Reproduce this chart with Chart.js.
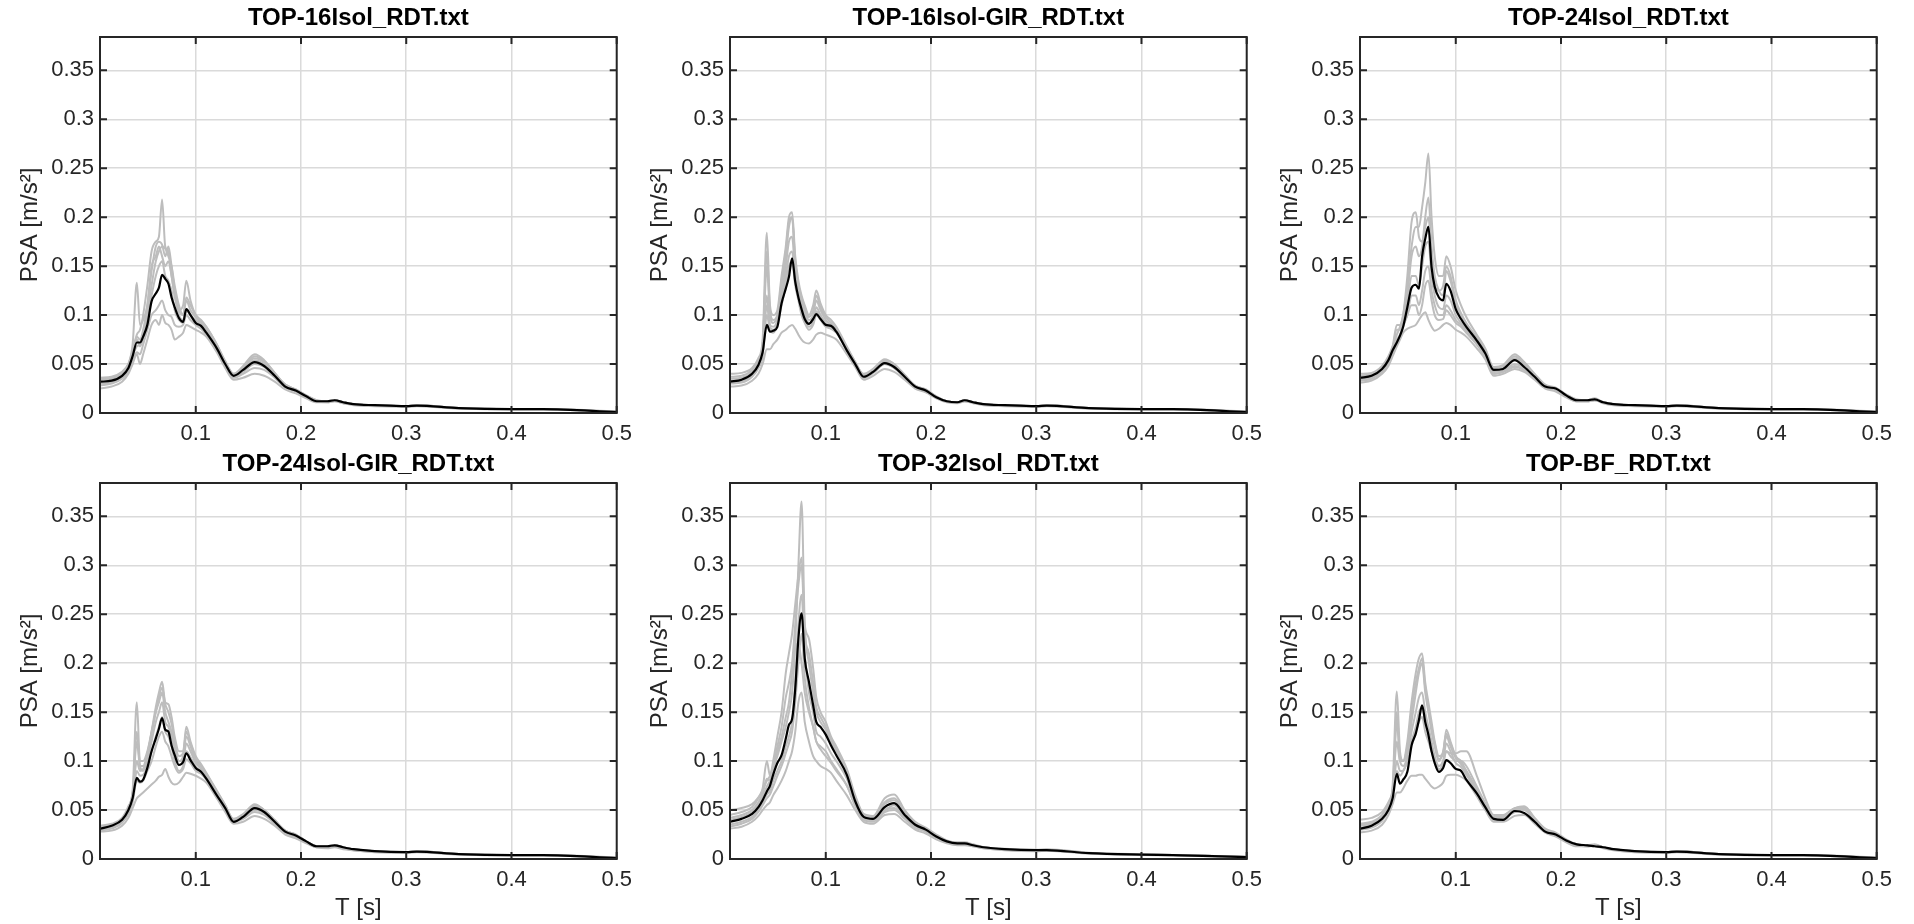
<!DOCTYPE html>
<html>
<head>
<meta charset="utf-8">
<title>PSA spectra</title>
<script src="https://cdn.jsdelivr.net/npm/chart.js@4.4.1/dist/chart.umd.min.js"></script>
<style>
  body { margin: 0; background: #fff; }
  #fig { position: relative; width: 1914px; height: 924px; overflow: hidden; background: #fff; }
  #fig canvas { position: absolute; }
</style>
</head>
<body>
<div id="fig"></div>
<script>
// periods T [s] shared by every curve
const periods = [0.009, 0.02, 0.03, 0.036, 0.04, 0.044, 0.047, 0.05, 0.054, 0.058,
  0.062, 0.065, 0.068, 0.071, 0.074, 0.077, 0.08, 0.084, 0.088, 0.091,
  0.095, 0.1, 0.105, 0.11, 0.12, 0.128, 0.136, 0.145, 0.156, 0.165,
  0.175, 0.185, 0.195, 0.205, 0.215, 0.225, 0.232, 0.24, 0.25, 0.27,
  0.3, 0.31, 0.35, 0.4, 0.43, 0.5];

const xTicks = [0.1, 0.2, 0.3, 0.4, 0.5];
const yTicks = [0, 0.05, 0.1, 0.15, 0.2, 0.25, 0.3, 0.35];
const xMin = 0.009, xMax = 0.5, yMin = 0, yMax = 0.384;

const titles = ['TOP-16Isol_RDT.txt', 'TOP-16Isol-GIR_RDT.txt', 'TOP-24Isol_RDT.txt',
  'TOP-24Isol-GIR_RDT.txt', 'TOP-32Isol_RDT.txt', 'TOP-BF_RDT.txt'];

// TOP-16Isol
const mean16 = [0.032,0.033,0.038,0.046,0.058,0.072,0.072,0.078,0.090,0.114,0.122,0.128,0.141,0.137,0.132,0.118,0.108,0.097,0.093,0.106,0.100,0.092,0.089,0.082,0.066,0.050,0.038,0.044,0.052,0.048,0.038,0.027,0.023,0.017,0.012,0.012,0.013,0.011,0.009, 0.008,0.007,0.0075,0.005,0.004,0.004,0.001];
const rec16 = [
  [0.036,0.037,0.042,0.05,0.062,0.08,0.085,0.1,0.13,0.165,0.175,0.18,0.218,0.17,0.165,0.14,0.12,0.1,0.095,0.105,0.1,0.095,0.09,0.085,0.068,0.052,0.04,0.046,0.056,0.052,0.04,0.029,0.024,0.018,0.013,0.012,0.013,0.011,0.009, 0.008,0.007,0.008,0.005,0.004,0.004,0.0015],
  [0.034,0.035,0.04,0.05,0.07,0.133,0.09,0.095,0.11,0.15,0.16,0.17,0.16,0.15,0.155,0.14,0.12,0.105,0.11,0.135,0.115,0.1,0.095,0.088,0.07,0.053,0.04,0.048,0.06,0.054,0.041,0.029,0.024,0.017,0.012,0.012,0.013,0.011,0.009, 0.008,0.007,0.008,0.005,0.004,0.004,0.001],
  [0.025,0.027,0.032,0.04,0.05,0.06,0.05,0.06,0.075,0.09,0.095,0.09,0.1,0.092,0.09,0.085,0.075,0.078,0.082,0.09,0.088,0.085,0.082,0.078,0.062,0.046,0.034,0.036,0.04,0.038,0.032,0.024,0.02,0.015,0.011,0.011,0.012,0.01,0.008, 0.007,0.0065,0.007,0.0045,0.0035,0.0035,0.001],
  [0.03,0.031,0.036,0.045,0.058,0.068,0.07,0.08,0.1,0.13,0.155,0.165,0.17,0.168,0.16,0.15,0.13,0.11,0.1,0.115,0.105,0.098,0.092,0.085,0.066,0.05,0.037,0.043,0.054,0.05,0.039,0.028,0.023,0.017,0.012,0.012,0.013,0.011,0.009, 0.008,0.007,0.0078,0.005,0.004,0.004,0.0012],
  [0.028,0.03,0.035,0.042,0.052,0.062,0.06,0.07,0.085,0.1,0.105,0.11,0.115,0.105,0.1,0.098,0.09,0.088,0.09,0.1,0.095,0.09,0.086,0.08,0.064,0.048,0.036,0.04,0.046,0.044,0.036,0.026,0.022,0.016,0.012,0.011,0.012,0.01,0.009, 0.0075,0.0068,0.0072,0.0048,0.0038,0.0038,0.001],
  [0.035,0.036,0.041,0.05,0.064,0.078,0.075,0.085,0.11,0.145,0.17,0.175,0.172,0.16,0.17,0.15,0.125,0.105,0.1,0.118,0.11,0.1,0.094,0.088,0.07,0.052,0.039,0.046,0.058,0.053,0.041,0.029,0.024,0.018,0.013,0.012,0.013,0.011,0.009, 0.008,0.007,0.0078,0.005,0.004,0.004,0.0012],
  [0.031,0.032,0.037,0.046,0.06,0.075,0.068,0.075,0.095,0.12,0.14,0.15,0.155,0.14,0.135,0.125,0.105,0.095,0.092,0.105,0.1,0.094,0.088,0.083,0.066,0.049,0.037,0.042,0.05,0.047,0.037,0.027,0.023,0.017,0.012,0.012,0.013,0.011,0.009, 0.0078,0.007,0.0074,0.005,0.004,0.004,0.001]
];

// TOP-16Isol-GIR
const mean16gir = [0.032,0.034,0.040,0.049,0.062,0.090,0.083,0.084,0.088,0.112,0.127,0.139,0.158,0.134,0.118,0.106,0.096,0.091,0.096,0.101,0.096,0.090,0.089,0.083,0.064,0.050,0.037,0.042,0.051,0.047,0.037,0.027,0.023,0.016,0.012,0.011,0.013,0.011,0.009, 0.008,0.007,0.0075,0.005,0.004,0.004,0.001];
const rec16gir = [
  [0.04,0.041,0.046,0.056,0.075,0.184,0.11,0.1,0.105,0.14,0.17,0.2,0.205,0.16,0.135,0.12,0.11,0.1,0.11,0.125,0.112,0.1,0.095,0.088,0.068,0.052,0.04,0.045,0.055,0.05,0.039,0.028,0.024,0.017,0.012,0.011,0.013,0.011,0.009, 0.008,0.007,0.008,0.005,0.004,0.004,0.0015],
  [0.035,0.036,0.042,0.052,0.068,0.15,0.1,0.092,0.1,0.13,0.16,0.19,0.2,0.15,0.13,0.115,0.105,0.095,0.1,0.115,0.105,0.095,0.09,0.085,0.066,0.051,0.038,0.043,0.053,0.049,0.038,0.027,0.023,0.016,0.012,0.011,0.013,0.011,0.009, 0.008,0.007,0.0078,0.005,0.004,0.004,0.001],
  [0.027,0.028,0.033,0.04,0.05,0.065,0.065,0.07,0.075,0.082,0.085,0.088,0.09,0.086,0.08,0.075,0.072,0.071,0.075,0.08,0.082,0.08,0.078,0.075,0.06,0.047,0.034,0.038,0.045,0.042,0.034,0.025,0.021,0.015,0.011,0.01,0.012,0.01,0.008, 0.007,0.0065,0.007,0.0045,0.0035,0.0035,0.001],
  [0.03,0.031,0.037,0.046,0.058,0.1,0.085,0.082,0.09,0.11,0.13,0.15,0.155,0.13,0.115,0.1,0.092,0.085,0.09,0.1,0.095,0.088,0.086,0.082,0.064,0.05,0.036,0.041,0.05,0.046,0.036,0.026,0.022,0.016,0.012,0.011,0.012,0.011,0.009, 0.0075,0.0068,0.0072,0.0048,0.0038,0.0038,0.001],
  [0.033,0.034,0.039,0.05,0.065,0.12,0.09,0.088,0.095,0.12,0.15,0.175,0.18,0.14,0.125,0.11,0.1,0.092,0.095,0.108,0.1,0.092,0.088,0.084,0.065,0.051,0.037,0.042,0.052,0.047,0.037,0.027,0.023,0.016,0.012,0.011,0.013,0.011,0.009, 0.008,0.007,0.0075,0.005,0.004,0.004,0.0012],
  [0.037,0.038,0.044,0.054,0.07,0.165,0.105,0.095,0.1,0.135,0.165,0.195,0.2,0.155,0.13,0.118,0.108,0.098,0.105,0.12,0.108,0.098,0.092,0.086,0.067,0.052,0.039,0.044,0.054,0.05,0.038,0.028,0.024,0.017,0.012,0.011,0.013,0.011,0.009, 0.008,0.007,0.0078,0.005,0.004,0.004,0.0012],
  [0.031,0.032,0.038,0.047,0.06,0.11,0.088,0.085,0.092,0.115,0.14,0.16,0.165,0.135,0.12,0.105,0.096,0.088,0.092,0.104,0.098,0.09,0.087,0.083,0.064,0.05,0.036,0.041,0.05,0.046,0.036,0.026,0.022,0.016,0.012,0.011,0.012,0.011,0.009, 0.0078,0.007,0.0074,0.005,0.004,0.004,0.001]
];

// TOP-24Isol
const mean24 = [0.036,0.038,0.045,0.054,0.064,0.072,0.079,0.088,0.108,0.128,0.131,0.127,0.160,0.178,0.190,0.149,0.129,0.118,0.115,0.132,0.125,0.106,0.096,0.088,0.074,0.061,0.044,0.045,0.054,0.047,0.037,0.027,0.025,0.018,0.013,0.013,0.014,0.011,0.009, 0.008,0.007,0.0075,0.005,0.004,0.004,0.001];
const rec24 = [
  [0.04,0.041,0.048,0.058,0.068,0.08,0.088,0.1,0.13,0.17,0.19,0.19,0.21,0.235,0.265,0.2,0.16,0.14,0.14,0.16,0.15,0.125,0.11,0.098,0.08,0.066,0.047,0.049,0.06,0.052,0.04,0.029,0.026,0.019,0.014,0.013,0.015,0.011,0.009, 0.008,0.007,0.008,0.005,0.004,0.004,0.0015],
  [0.038,0.04,0.046,0.056,0.068,0.09,0.09,0.1,0.14,0.195,0.205,0.18,0.175,0.19,0.2,0.16,0.13,0.125,0.13,0.15,0.14,0.115,0.102,0.092,0.077,0.063,0.046,0.047,0.058,0.05,0.039,0.028,0.025,0.018,0.013,0.013,0.014,0.011,0.009, 0.008,0.007,0.0078,0.005,0.004,0.004,0.001],
  [0.031,0.033,0.04,0.048,0.058,0.068,0.075,0.082,0.086,0.088,0.09,0.095,0.1,0.103,0.095,0.088,0.084,0.086,0.09,0.092,0.09,0.085,0.082,0.078,0.066,0.055,0.038,0.04,0.045,0.042,0.034,0.025,0.022,0.016,0.012,0.012,0.013,0.01,0.008, 0.007,0.0065,0.007,0.0045,0.0035,0.0035,0.001],
  [0.034,0.036,0.043,0.052,0.062,0.07,0.078,0.09,0.11,0.14,0.14,0.13,0.15,0.17,0.175,0.14,0.12,0.108,0.106,0.12,0.115,0.1,0.092,0.085,0.072,0.06,0.042,0.043,0.05,0.046,0.036,0.026,0.024,0.017,0.013,0.013,0.014,0.011,0.009, 0.0075,0.0068,0.0072,0.0048,0.0038,0.0038,0.001],
  [0.035,0.037,0.044,0.053,0.064,0.075,0.08,0.09,0.1,0.12,0.12,0.11,0.125,0.145,0.15,0.125,0.11,0.1,0.1,0.11,0.105,0.095,0.09,0.083,0.07,0.058,0.04,0.042,0.048,0.044,0.035,0.026,0.023,0.017,0.012,0.012,0.013,0.011,0.009, 0.008,0.007,0.0075,0.005,0.004,0.004,0.0012],
  [0.037,0.039,0.046,0.055,0.066,0.085,0.085,0.095,0.12,0.16,0.17,0.16,0.17,0.2,0.22,0.17,0.14,0.125,0.12,0.145,0.135,0.112,0.1,0.09,0.075,0.062,0.045,0.046,0.056,0.049,0.038,0.028,0.025,0.018,0.013,0.013,0.014,0.011,0.009, 0.008,0.007,0.0078,0.005,0.004,0.004,0.0012],
  [0.033,0.035,0.042,0.051,0.061,0.072,0.078,0.088,0.1,0.11,0.11,0.1,0.11,0.13,0.135,0.115,0.1,0.095,0.096,0.105,0.1,0.092,0.088,0.082,0.07,0.057,0.04,0.042,0.047,0.044,0.035,0.026,0.023,0.017,0.012,0.012,0.013,0.011,0.009, 0.0078,0.007,0.0074,0.005,0.004,0.004,0.001]
];

// TOP-24Isol-GIR
const mean24gir = [0.031,0.034,0.040,0.050,0.062,0.083,0.079,0.081,0.093,0.110,0.123,0.133,0.144,0.132,0.130,0.116,0.106,0.096,0.099,0.108,0.101,0.093,0.089,0.082,0.065,0.052,0.038,0.043,0.052,0.048,0.038,0.028,0.024,0.018,0.013,0.013,0.014,0.012,0.010, 0.008,0.007,0.0075,0.005,0.004,0.004,0.001];
const rec24gir = [
  [0.034,0.036,0.042,0.054,0.07,0.16,0.1,0.1,0.11,0.13,0.15,0.16,0.17,0.15,0.14,0.13,0.115,0.1,0.105,0.125,0.115,0.1,0.094,0.087,0.068,0.054,0.041,0.046,0.056,0.05,0.04,0.029,0.025,0.018,0.013,0.013,0.014,0.012,0.01, 0.008,0.007,0.008,0.005,0.004,0.004,0.0015],
  [0.033,0.035,0.041,0.052,0.066,0.1,0.09,0.092,0.105,0.13,0.155,0.17,0.181,0.16,0.158,0.145,0.125,0.11,0.11,0.135,0.12,0.105,0.097,0.088,0.07,0.055,0.04,0.045,0.055,0.05,0.039,0.029,0.025,0.018,0.013,0.013,0.014,0.012,0.01, 0.008,0.007,0.0078,0.005,0.004,0.004,0.001],
  [0.028,0.029,0.034,0.042,0.052,0.062,0.065,0.068,0.072,0.076,0.08,0.084,0.086,0.092,0.084,0.078,0.076,0.078,0.084,0.088,0.087,0.085,0.082,0.078,0.062,0.048,0.036,0.038,0.044,0.041,0.034,0.025,0.021,0.016,0.012,0.011,0.012,0.01,0.009, 0.007,0.0065,0.007,0.0045,0.0035,0.0035,0.001],
  [0.03,0.032,0.038,0.048,0.06,0.09,0.085,0.086,0.095,0.11,0.125,0.135,0.145,0.13,0.125,0.115,0.1,0.09,0.095,0.11,0.104,0.094,0.09,0.083,0.066,0.051,0.039,0.042,0.05,0.047,0.037,0.027,0.023,0.017,0.012,0.012,0.013,0.011,0.009, 0.0075,0.0068,0.0072,0.0048,0.0038,0.0038,0.001],
  [0.032,0.034,0.04,0.05,0.064,0.13,0.095,0.09,0.1,0.12,0.14,0.15,0.16,0.14,0.135,0.125,0.11,0.1,0.1,0.118,0.11,0.098,0.092,0.085,0.067,0.053,0.04,0.044,0.053,0.049,0.038,0.028,0.024,0.017,0.013,0.012,0.014,0.011,0.01, 0.008,0.007,0.0075,0.005,0.004,0.004,0.0012],
  [0.033,0.035,0.041,0.052,0.067,0.12,0.095,0.095,0.108,0.128,0.15,0.165,0.175,0.158,0.15,0.138,0.12,0.105,0.108,0.13,0.118,0.102,0.095,0.087,0.069,0.055,0.04,0.045,0.055,0.05,0.039,0.029,0.025,0.018,0.013,0.013,0.014,0.012,0.01, 0.008,0.007,0.0078,0.005,0.004,0.004,0.0012],
  [0.029,0.031,0.037,0.046,0.058,0.08,0.078,0.08,0.09,0.1,0.115,0.125,0.13,0.12,0.115,0.105,0.095,0.088,0.092,0.102,0.098,0.09,0.087,0.081,0.064,0.05,0.038,0.041,0.048,0.045,0.036,0.026,0.022,0.017,0.012,0.012,0.013,0.011,0.009, 0.0078,0.007,0.0074,0.005,0.004,0.004,0.001]
];

// TOP-32Isol
const mean32 = [0.038,0.041,0.046,0.053,0.060,0.069,0.075,0.086,0.098,0.106,0.123,0.137,0.143,0.174,0.225,0.251,0.205,0.181,0.157,0.140,0.135,0.127,0.116,0.106,0.086,0.059,0.043,0.041,0.053,0.057,0.045,0.035,0.030,0.023,0.018,0.016,0.016,0.014,0.012, 0.010,0.009,0.009,0.006,0.0045,0.004,0.002];
const rec32 = [
  [0.04,0.043,0.048,0.056,0.064,0.074,0.08,0.092,0.105,0.12,0.135,0.15,0.17,0.22,0.3,0.365,0.24,0.2,0.17,0.15,0.14,0.132,0.12,0.11,0.09,0.062,0.045,0.042,0.056,0.06,0.047,0.036,0.031,0.024,0.018,0.016,0.016,0.014,0.012, 0.01,0.009,0.0095,0.006,0.0045,0.004,0.002],
  [0.045,0.048,0.053,0.062,0.072,0.1,0.085,0.1,0.125,0.15,0.19,0.21,0.23,0.26,0.29,0.308,0.24,0.225,0.195,0.165,0.15,0.14,0.125,0.115,0.092,0.065,0.046,0.044,0.062,0.066,0.05,0.038,0.032,0.025,0.019,0.017,0.017,0.015,0.012, 0.0105,0.0095,0.01,0.0065,0.0048,0.0042,0.0022],
  [0.031,0.033,0.038,0.044,0.05,0.055,0.058,0.065,0.072,0.08,0.09,0.1,0.11,0.13,0.16,0.17,0.14,0.12,0.105,0.1,0.095,0.092,0.088,0.08,0.065,0.05,0.038,0.036,0.045,0.046,0.038,0.03,0.026,0.02,0.016,0.014,0.014,0.013,0.011, 0.009,0.008,0.0085,0.0055,0.004,0.0037,0.0018],
  [0.035,0.038,0.043,0.05,0.058,0.066,0.07,0.08,0.09,0.1,0.115,0.125,0.14,0.18,0.24,0.27,0.21,0.17,0.15,0.13,0.125,0.118,0.108,0.1,0.082,0.057,0.042,0.04,0.05,0.055,0.043,0.033,0.029,0.022,0.017,0.015,0.015,0.014,0.012, 0.0095,0.0085,0.009,0.006,0.0042,0.004,0.002],
  [0.05,0.052,0.056,0.063,0.07,0.08,0.085,0.095,0.11,0.125,0.145,0.16,0.19,0.215,0.22,0.2,0.17,0.15,0.135,0.12,0.112,0.105,0.098,0.09,0.075,0.055,0.042,0.04,0.05,0.052,0.042,0.033,0.028,0.022,0.017,0.015,0.015,0.014,0.012, 0.01,0.009,0.0092,0.006,0.0044,0.004,0.002],
  [0.042,0.045,0.05,0.058,0.067,0.082,0.08,0.095,0.115,0.135,0.165,0.18,0.2,0.24,0.28,0.3,0.23,0.21,0.18,0.155,0.145,0.135,0.122,0.112,0.09,0.063,0.045,0.043,0.058,0.062,0.048,0.037,0.031,0.024,0.018,0.016,0.016,0.014,0.012, 0.01,0.009,0.0095,0.006,0.0045,0.004,0.002],
  [0.033,0.036,0.041,0.048,0.055,0.062,0.066,0.074,0.085,0.095,0.108,0.118,0.13,0.16,0.2,0.23,0.185,0.155,0.135,0.12,0.115,0.11,0.1,0.092,0.075,0.054,0.04,0.038,0.048,0.05,0.041,0.032,0.028,0.021,0.017,0.015,0.015,0.013,0.011, 0.0095,0.0085,0.009,0.006,0.0042,0.004,0.002]
];

// TOP-BF
const meanBF = [0.031,0.034,0.041,0.050,0.062,0.087,0.077,0.081,0.089,0.116,0.128,0.142,0.157,0.140,0.127,0.110,0.098,0.089,0.093,0.101,0.098,0.092,0.090,0.081,0.067,0.053,0.041,0.040,0.049,0.047,0.038,0.028,0.025,0.019,0.015,0.014,0.013,0.012,0.010, 0.008,0.007,0.0075,0.005,0.004,0.004,0.001];
const recBF = [
  [0.034,0.036,0.043,0.055,0.075,0.171,0.11,0.1,0.11,0.14,0.17,0.19,0.2,0.17,0.15,0.13,0.115,0.1,0.11,0.128,0.118,0.105,0.098,0.09,0.07,0.055,0.042,0.043,0.051,0.052,0.04,0.03,0.026,0.019,0.015,0.014,0.014,0.012,0.01, 0.008,0.007,0.008,0.005,0.004,0.004,0.0015],
  [0.036,0.038,0.045,0.056,0.07,0.12,0.1,0.1,0.12,0.16,0.19,0.205,0.21,0.18,0.16,0.14,0.12,0.105,0.108,0.132,0.12,0.105,0.1,0.09,0.072,0.056,0.043,0.044,0.052,0.053,0.041,0.03,0.026,0.019,0.015,0.014,0.014,0.012,0.01, 0.008,0.007,0.0078,0.005,0.004,0.004,0.001],
  [0.027,0.029,0.035,0.045,0.056,0.068,0.068,0.072,0.08,0.085,0.085,0.086,0.086,0.082,0.078,0.074,0.072,0.074,0.078,0.085,0.086,0.086,0.084,0.08,0.064,0.05,0.038,0.038,0.044,0.045,0.036,0.027,0.023,0.017,0.013,0.013,0.013,0.011,0.009, 0.007,0.0065,0.007,0.0045,0.0035,0.0035,0.001],
  [0.04,0.042,0.048,0.058,0.068,0.09,0.085,0.09,0.1,0.12,0.13,0.14,0.145,0.13,0.12,0.11,0.1,0.095,0.1,0.11,0.108,0.108,0.11,0.11,0.085,0.062,0.045,0.045,0.052,0.054,0.042,0.031,0.027,0.02,0.015,0.014,0.015,0.012,0.01, 0.0082,0.0072,0.0078,0.0052,0.0041,0.004,0.0013],
  [0.03,0.032,0.039,0.05,0.065,0.14,0.1,0.095,0.105,0.13,0.15,0.165,0.17,0.15,0.135,0.12,0.105,0.095,0.1,0.118,0.11,0.098,0.094,0.086,0.068,0.053,0.04,0.041,0.048,0.05,0.039,0.029,0.025,0.018,0.014,0.013,0.014,0.012,0.01, 0.0075,0.0068,0.0072,0.0048,0.0038,0.0038,0.001],
  [0.035,0.037,0.044,0.055,0.07,0.15,0.105,0.1,0.115,0.15,0.18,0.195,0.205,0.175,0.155,0.135,0.118,0.102,0.108,0.125,0.115,0.103,0.097,0.089,0.07,0.055,0.042,0.043,0.051,0.052,0.04,0.03,0.026,0.019,0.015,0.014,0.014,0.012,0.01, 0.008,0.007,0.0078,0.005,0.004,0.004,0.0012],
  [0.032,0.034,0.041,0.052,0.064,0.1,0.09,0.09,0.1,0.12,0.135,0.15,0.155,0.14,0.125,0.11,0.1,0.092,0.097,0.11,0.105,0.1,0.1,0.095,0.074,0.057,0.042,0.042,0.049,0.05,0.04,0.029,0.025,0.019,0.014,0.013,0.014,0.012,0.01, 0.0078,0.007,0.0074,0.005,0.004,0.004,0.001]
];

const means = [mean16, mean16gir, mean24, mean24gir, mean32, meanBF];
const records = [rec16, rec16gir, rec24, rec24gir, rec32, recBF];

const axisColor = '#262626';
const gridColor = '#dadada';
const recordColor = '#bdbdbd';
const tickLen = 7;

Chart.defaults.font.family = '"Liberation Sans", Arial, Helvetica, sans-serif';

function toPoints(vals) {
  return periods.map((t, i) => ({ x: t, y: vals[i] }));
}

// MATLAB style box with inward ticks on all four sides
const boxPlugin = {
  id: 'axesBox',
  afterDatasetsDraw(chart) {
    const { ctx, chartArea: a, scales } = chart;
    ctx.save();
    ctx.strokeStyle = axisColor;
    ctx.lineWidth = 2;
    ctx.beginPath();
    xTicks.forEach(v => {
      const px = scales.x.getPixelForValue(v);
      ctx.moveTo(px, a.bottom); ctx.lineTo(px, a.bottom - tickLen);
      ctx.moveTo(px, a.top); ctx.lineTo(px, a.top + tickLen);
    });
    yTicks.forEach(v => {
      const py = scales.y.getPixelForValue(v);
      ctx.moveTo(a.left, py); ctx.lineTo(a.left + tickLen, py);
      ctx.moveTo(a.right, py); ctx.lineTo(a.right - tickLen, py);
    });
    ctx.stroke();
    ctx.strokeRect(a.left, a.top, a.right - a.left, a.bottom - a.top);
    ctx.restore();
  }
};

const fig = document.getElementById('fig');
const colLeft = [0, 630, 1260];
const rowTop = [0, 446];

titles.forEach((title, i) => {
  const col = i % 3, row = Math.floor(i / 3);
  const bottomRow = row === 1;
  const canvas = document.createElement('canvas');
  canvas.width = 640;
  canvas.height = bottomRow ? 478 : 446;
  canvas.style.left = colLeft[col] + 'px';
  canvas.style.top = rowTop[row] + 'px';
  fig.appendChild(canvas);

  const datasets = [{
    data: toPoints(means[i]), borderColor: '#000', borderWidth: 2.2
  }].concat(records[i].map(r => ({
    data: toPoints(r), borderColor: recordColor, borderWidth: 2
  })));

  new Chart(canvas, {
    type: 'line',
    data: { datasets },
    options: {
      responsive: false,
      animation: false,
      layout: { padding: { left: 0, right: 20, top: 0, bottom: 0 } },
      elements: {
        point: { radius: 0 },
        line: { cubicInterpolationMode: 'monotone', borderJoinStyle: 'round' }
      },
      plugins: {
        legend: { display: false },
        tooltip: { enabled: false },
        title: {
          display: true, text: title, color: '#000', fullSize: false,
          font: { size: 24, weight: 'bold' },
          padding: { top: 3.6, bottom: 4.6 }
        }
      },
      scales: {
        x: {
          type: 'linear', min: xMin, max: xMax,
          afterBuildTicks: s => { s.ticks = xTicks.map(v => ({ value: v })); },
          afterFit: s => { s.height = bottomRow ? 65 : 33; },
          grid: { color: gridColor, lineWidth: 1.5, drawTicks: false },
          border: { display: false },
          ticks: { color: axisColor, font: { size: 22 }, padding: 8, maxRotation: 0, callback: v => String(v) },
          title: { display: bottomRow, text: 'T [s]', color: axisColor, font: { size: 24 }, padding: { top: 0, bottom: 1 } }
        },
        y: {
          type: 'linear', min: yMin, max: yMax,
          afterBuildTicks: s => { s.ticks = yTicks.map(v => ({ value: v })); },
          afterFit: s => { s.width = 100; },
          grid: { color: gridColor, lineWidth: 1.5, drawTicks: false },
          border: { display: false },
          ticks: { color: axisColor, font: { size: 22 }, padding: 6, callback: v => String(v) },
          title: { display: true, text: 'PSA [m/s²]', color: axisColor, font: { size: 24 }, padding: { top: 15.6, bottom: 0 } }
        }
      }
    },
    plugins: [boxPlugin]
  });
});
</script>
</body>
</html>
